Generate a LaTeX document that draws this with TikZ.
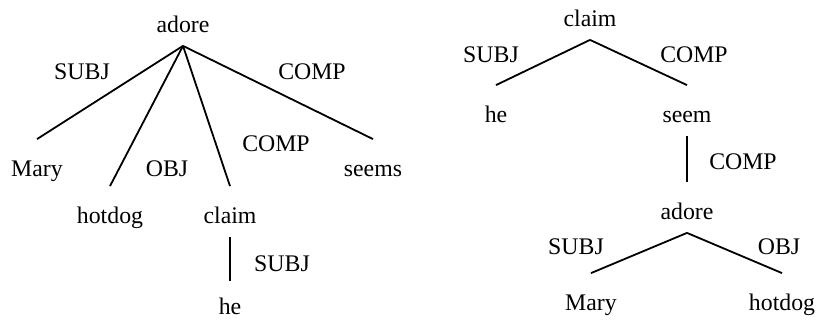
\documentclass[tikz,border=0pt]{standalone}
\usepackage{fontspec}
\setmainfont{Liberation Serif}

\begin{document}
\begin{tikzpicture}[x=1pt,y=-1pt,line width=1.8pt,
  word/.style={anchor=base,inner xsep=2pt,inner ysep=12pt,text height=25pt,text depth=0pt,font=\fontsize{23.8}{28}\selectfont},
  rel/.style={anchor=base,inner sep=0pt,font=\fontsize{23.8}{28}\selectfont}]

  \useasboundingbox (0,0) rectangle (817,320);

  % left tree
  \node[word] (1) at (183,33) {adore};
  \node[word] (2) at (37,177) {Mary};
  \node[word] (3) at (110,224) {hotdog};
  \node[word] (4) at (230,224) {claim};
  \node[word] (5) at (373,177) {seems};
  \node[word,inner ysep=0pt,text height=33pt] (6) at (230,315) {he};

  \node[rel] (7) at (82,80) {SUBJ};
  \node[rel] (8) at (167,177) {OBJ};
  \node[rel] (9) at (276,152) {COMP};
  \node[rel] (10) at (312,80) {COMP};
  \node[rel] (11) at (282,272) {SUBJ};

  % right tree
  \node[word] (12) at (590,27) {claim};
  \node[word] (13) at (496,123) {he};
  \node[word] (14) at (687,123) {seem};
  \node[word] (15) at (687,220) {adore};
  \node[word,inner ysep=0pt,text height=37pt] (16) at (591,311) {Mary};
  \node[word,inner ysep=0pt,text height=37pt] (17) at (782,311) {hotdog};

  \node[rel] (18) at (491,63) {SUBJ};
  \node[rel] (19) at (694,63) {COMP};
  \node[rel] (20) at (743,170) {COMP};
  \node[rel] (21) at (576,255) {SUBJ};
  \node[rel] (22) at (779,255) {OBJ};

  \path
    (1.south) edge (2.north)
    (1.south) edge (3.north)
    (1.south) edge (4.north)
    (1.south) edge (5.north)
    (4.south) edge (6.north)
    (12.south) edge (13.north)
    (12.south) edge (14.north)
    (14.south) edge (15.north)
    (15.south) edge (16.north)
    (15.south) edge (17.north);

\end{tikzpicture}
\end{document}
